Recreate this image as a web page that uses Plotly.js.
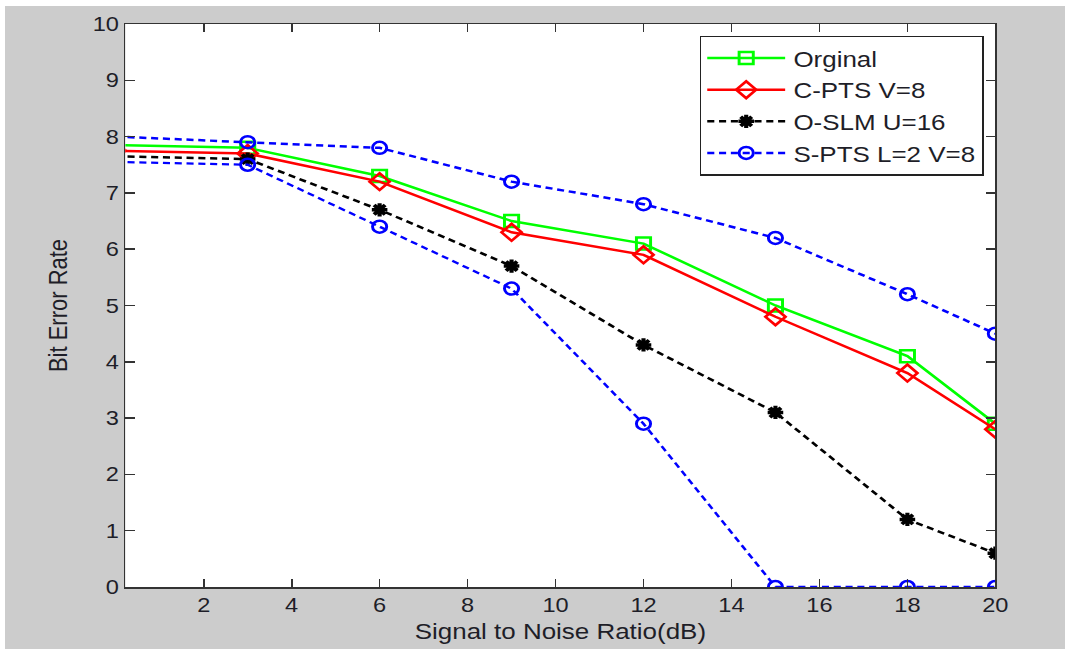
<!DOCTYPE html>
<html>
<head>
<meta charset="utf-8">
<script src="https://cdn.plot.ly/plotly-3.0.1.min.js"></script>
<style>
html,body{margin:0;padding:0;background:#ffffff;width:1065px;height:649px;overflow:hidden;}
#wrap{position:absolute;left:5px;top:6px;width:1060px;height:643px;overflow:hidden;background:#cccccc;}
#chart{position:absolute;left:0;top:0;width:898px;height:643px;transform:scaleX(1.1804);transform-origin:0 0;}
</style>
</head>
<body>
<div id="wrap"><div id="chart"></div></div>
<script>
const snr = [0, 3, 6, 9, 12, 15, 18, 20];
const original = [7.85, 7.8, 7.3, 6.5, 6.1, 5.0, 4.1, 2.9];
const cpts = [7.75, 7.7, 7.2, 6.3, 5.9, 4.8, 3.8, 2.8];
const oslm = [7.65, 7.6, 6.7, 5.7, 4.3, 3.1, 1.2, 0.6];
const sptsUpper = [8.0, 7.9, 7.8, 7.2, 6.8, 6.2, 5.2, 4.5];
const sptsLower = [7.55, 7.5, 6.4, 5.3, 2.9, 0, 0, 0];
const names = ['Orginal', 'C-PTS V=8', 'O-SLM U=16', 'S-PTS L=2 V=8'];
const xTicks = [2, 4, 6, 8, 10, 12, 14, 16, 18, 20];
const yTicks = [0, 1, 2, 3, 4, 5, 6, 7, 8, 9, 10];

const dashStyle = '6px,4px';
const traces = [
  {x: snr, y: original, name: names[0], mode: 'lines+markers',
   line: {color: '#00ff00', width: 2.5},
   marker: {symbol: 'square-open', size: 12, color: '#00ff00', line: {width: 2.5}}},
  {x: snr, y: cpts, name: names[1], mode: 'lines+markers',
   line: {color: '#ff0000', width: 2.5},
   marker: {symbol: 'diamond-open', size: 13, color: '#ff0000', line: {width: 2.5}}},
  {x: snr, y: oslm, name: names[2], mode: 'lines+markers',
   line: {color: '#000000', width: 2.5, dash: dashStyle},
   marker: {symbol: 'asterisk-open', size: 11, color: '#000000', line: {width: 3.5, color: '#000000'}}},
  {x: snr, y: sptsUpper, name: names[3], mode: 'lines+markers',
   line: {color: '#0000ff', width: 2.5, dash: dashStyle},
   marker: {symbol: 'circle-open', size: 12, color: '#0000ff', line: {width: 2.5}}},
  {x: snr, y: sptsLower, name: names[3], mode: 'lines+markers', showlegend: false,
   line: {color: '#0000ff', width: 2.3, dash: dashStyle},
   marker: {symbol: 'circle-open', size: 12, color: '#0000ff', line: {width: 2.5}}}
];

const fam = 'Liberation Sans, Arial, sans-serif';
const tickFont = {family: fam, size: 20, color: '#1e1e28'};
const titleFont = {family: fam, size: 22, color: '#1e1e28'};
const axisCommon = {
  showgrid: false, zeroline: false, showline: true, linecolor: '#333333', linewidth: 1.5,
  mirror: 'ticks', ticks: 'inside', ticklen: 8, tickwidth: 1.5, tickcolor: '#333333',
  tickfont: tickFont
};

const LEG_LINE = 66;
const layout = {
  width: 898, height: 643,
  margin: {l: 102, r: 59, t: 18, b: 62},
  paper_bgcolor: '#cccccc', plot_bgcolor: '#ffffff',
  font: tickFont,
  showlegend: true,
  hovermode: false,
  xaxis: Object.assign({}, axisCommon, {
    range: [0.22, 20], tickvals: xTicks, ticktext: xTicks.map(String),
    title: {text: 'Signal to Noise Ratio(dB)', font: titleFont, standoff: 8}
  }),
  yaxis: Object.assign({}, axisCommon, {
    range: [0, 10], tickvals: yTicks, ticktext: yTicks.map(String),
    title: {text: 'Bit Error Rate', font: titleFont, standoff: 15}
  }),
  legend: {
    x: 0.987, y: 0.979, xanchor: 'right', yanchor: 'top',
    bgcolor: '#ffffff', bordercolor: '#222222', borderwidth: 1.5,
    font: {family: fam, size: 22, color: '#1e1e28'},
    tracegroupgap: 0, itemwidth: LEG_LINE + 2
  }
};

function stretchLegend() {
  document.querySelectorAll('#chart .legend .traces').forEach(function (tr) {
    tr.querySelectorAll('.legendlines path').forEach(function (p) {
      p.setAttribute('d', 'M5,0h' + LEG_LINE);
    });
    tr.querySelectorAll('.legendpoints path').forEach(function (p) {
      p.setAttribute('transform', 'translate(' + (5 + LEG_LINE / 2) + ',0)');
    });
  });
}

Plotly.newPlot('chart', traces, layout, {displayModeBar: false, staticPlot: true}).then(stretchLegend);
</script>
</body>
</html>
